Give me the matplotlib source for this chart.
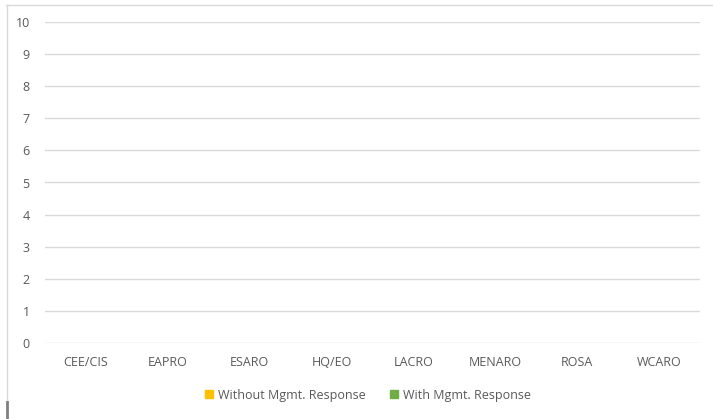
import numpy as np
import matplotlib.pyplot as plt
from matplotlib.lines import Line2D
from matplotlib.patches import Patch

plt.rcParams['font.family'] = ['Open Sans', 'DejaVu Sans']

# Data
regions = ["CEE/CIS", "EAPRO", "ESARO", "HQ/EO", "LACRO", "MENARO", "ROSA", "WCARO"]
without_resp = [0, 0, 0, 0, 0, 0, 0, 0]
with_resp = [0, 0, 0, 0, 0, 0, 0, 0]

W, H = 713, 419
fig = plt.figure(figsize=(W / 100, H / 100), dpi=100)
ax = fig.add_axes([45 / W, 1 - 343 / H, 655 / W, 321 / H])

x = np.arange(len(regions))
bw = 0.3
ax.bar(x - bw / 2, without_resp, bw, color="#FFC000", label="Without Mgmt. Response")
ax.bar(x + bw / 2, with_resp, bw, color="#70AD47", label="With Mgmt. Response")

ax.set_xlim(-0.5, len(regions) - 0.5)
ax.set_ylim(0, 10)
ax.set_yticks(range(0, 11))
ax.set_xticks(x)
ax.set_xticklabels(regions)
ax.grid(axis="y", color="#d9d9d9", linewidth=1)
ax.set_axisbelow(True)
for s in ax.spines.values():
    s.set_visible(False)
ax.tick_params(length=0, colors="#595959", labelsize=9)
ax.tick_params(axis="x", pad=9)
ax.tick_params(axis="y", pad=11)

handles = [Patch(color="#FFC000"), Patch(color="#70AD47")]
fig.legend(handles, ["Without Mgmt. Response", "With Mgmt. Response"],
           loc="center", bbox_to_anchor=(368 / W, 1 - 395 / H), ncol=2,
           frameon=False, fontsize=9, labelcolor="#595959",
           handlelength=0.6, handleheight=0.6, handletextpad=0.4, columnspacing=2.0)

# chart frame (partially cropped)
fig.add_artist(Line2D([6 / W, 1], [1 - 5 / H] * 2, color="#d9d9d9", lw=1))
fig.add_artist(Line2D([6.5 / W] * 2, [0, 1 - 5 / H], color="#d9d9d9", lw=1))
fig.add_artist(Line2D([7 / W] * 2, [0, 1 - 402 / H], color="#7f7f7f", lw=2))

fig.savefig("out.png", dpi=100)
